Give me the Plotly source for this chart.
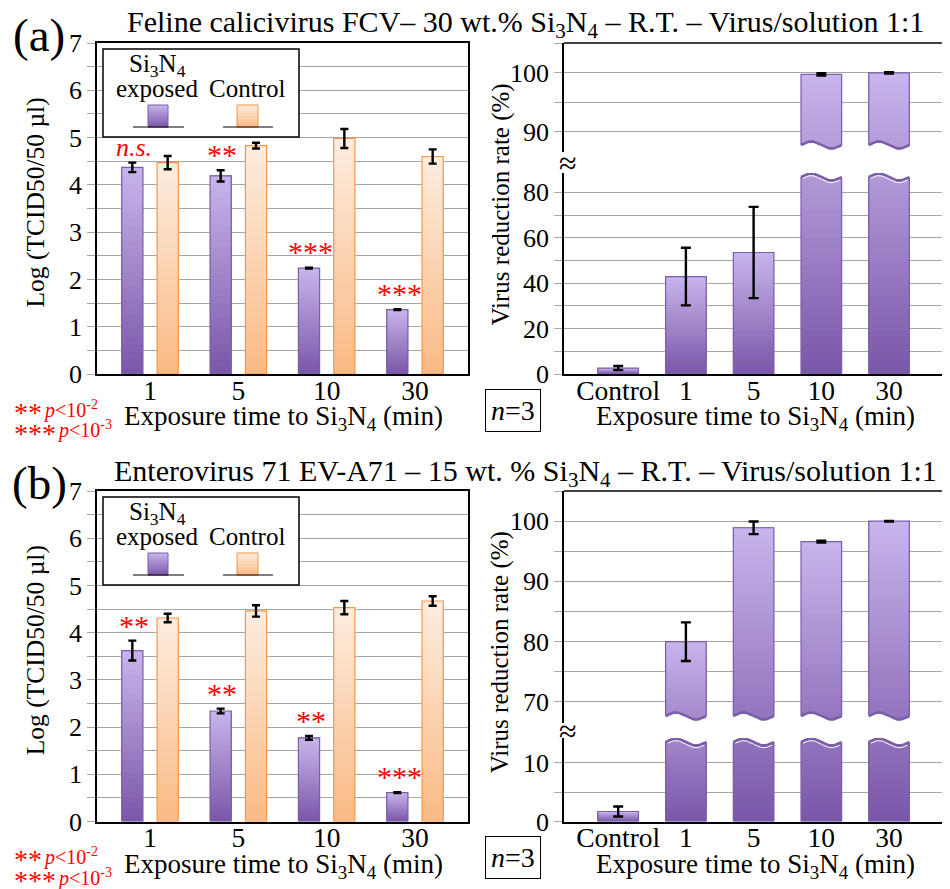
import numpy as np
import plotly.graph_objects as go

# ---------------- data ----------------
time_labels = ["1", "5", "10", "30"]
rate_labels = ["Control", "1", "5", "10", "30"]

a_exposed = [4.37, 4.19, 2.24, 1.36]
a_exposed_err = [0.10, 0.12, 0.01, 0.01]
a_control = [4.47, 4.83, 4.98, 4.60]
a_control_err = [0.14, 0.06, 0.20, 0.15]
a_sig = ["n.s.", "**", "***", "***"]
a_rate = [2.6, 42.9, 53.5, 99.7, 99.95]
a_rate_err = [0.9, 12.7, 20.1, 0.2, 0.1]

b_exposed = [3.62, 2.34, 1.77, 0.61]
b_exposed_err = [0.21, 0.05, 0.04, 0.01]
b_control = [4.31, 4.46, 4.53, 4.67]
b_control_err = [0.09, 0.12, 0.14, 0.10]
b_sig = ["**", "**", "**", "***"]
b_rate = [1.7, 80.0, 98.9, 96.6, 100.0]
b_rate_err = [0.85, 3.2, 1.05, 0.15, 0.05]

title_a = "Feline calicivirus FCV– 30 wt.% Si<sub>3</sub>N<sub>4</sub> – R.T. – Virus/solution 1:1"
title_b = "Enterovirus 71 EV-A71 – 15 wt. % Si<sub>3</sub>N<sub>4</sub> – R.T. – Virus/solution 1:1"

# ---------------- styling / geometry ----------------
PAGE_OFF = 8                      # default page margin around the plot div
W, H = 950 - PAGE_OFF, 889 - PAGE_OFF
FONT = "Liberation Serif, Times New Roman, serif"
GRID = "#a6a6a6"
P_TOP, P_BOT, P_LINE = (200, 181, 236), (122, 86, 168), "#7b5ea8"
O_TOP, O_BOT, O_LINE = (253, 237, 224), (250, 186, 132), "#f79646"


def fx(p):
    return (p - PAGE_OFF) / W


def fy(p):
    return 1 - (p - PAGE_OFF) / H


def mix(c0, c1, t):
    t = min(max(t, 0.0), 1.0)
    return "rgb(%d,%d,%d)" % tuple(round(a + (b - a) * t) for a, b in zip(c0, c1))


fig = go.Figure()
shapes = []
ann = []


def grad_bars(xa, ya, xs, bases, tops, offset, width, ctop, cbot, t0s, t1s, n=28):
    for i in range(n):
        bb, hh, cc = [], [], []
        for b0, tp, t0, t1 in zip(bases, tops, t0s, t1s):
            if tp is None:
                bb.append(None); hh.append(None); cc.append("rgba(0,0,0,0)")
                continue
            bi = b0 + (tp - b0) * i / n
            bb.append(bi); hh.append(tp - bi)
            cc.append(mix(cbot, ctop, t0 + (t1 - t0) * (i + 0.5) / n))
        fig.add_trace(go.Bar(x=xs, y=hh, base=bb, offset=offset, width=width,
                             marker=dict(color=cc, line=dict(width=0)),
                             xaxis=xa, yaxis=ya, showlegend=False, hoverinfo="skip"))


def outline_bars(xa, ya, xs, bases, tops, offset, width, lc, errs, capw=4):
    hh = [None if t is None else t - b for b, t in zip(bases, tops)]
    fig.add_trace(go.Bar(x=xs, y=hh, base=bases, offset=offset, width=width,
                         marker=dict(color="rgba(0,0,0,0)", line=dict(color=lc, width=1.2)),
                         error_y=dict(type="data", array=errs, visible=True, color="black",
                                      thickness=2.4, width=capw),
                         xaxis=xa, yaxis=ya, showlegend=False, hoverinfo="skip"))


def left_panel(xa, ya, exposed, eerr, control, cerr, sig):
    xs = list(range(len(time_labels)))
    zeros = [0] * len(xs)
    ones = [1] * len(xs)
    grad_bars(xa, ya, xs, zeros, exposed, -0.32, 0.24, P_TOP, P_BOT, zeros, ones)
    outline_bars(xa, ya, xs, zeros, exposed, -0.32, 0.24, P_LINE, eerr)
    grad_bars(xa, ya, xs, zeros, control, 0.08, 0.24, O_TOP, O_BOT, zeros, ones)
    outline_bars(xa, ya, xs, zeros, control, 0.08, 0.24, O_LINE, cerr)
    for x, v, e, s in zip(xs, exposed, eerr, sig):
        ns = s == "n.s."
        ann.append(dict(x=x - 0.18, y=v + e + 0.33, xref=xa, yref=ya,
                        text="<i>n.s.</i>" if ns else s, showarrow=False,
                        font=dict(family=FONT, size=26 if ns else 30, color="red"),
                        yanchor="middle"))


def right_panel(xa, ya_lo, ya_up, vals, errs, lo_rng, up_rng, lo_px, up_px):
    xs = list(range(len(rate_labels)))
    lo_upp = (lo_rng[1] - lo_rng[0]) / (lo_px[0] - lo_px[1])
    up_upp = (up_rng[1] - up_rng[0]) / (up_px[0] - up_px[1])
    lo_top, up_min = lo_rng[1], up_rng[0]
    lo_tops, up_tops, lo_t1, up_t0, lo_err, up_err, up_bases = [], [], [], [], [], [], []
    for v, e in zip(vals, errs):
        if v > lo_top:
            lp = lo_top / lo_upp
            upx = (v - up_min) / up_upp
            ts = lp / (lp + upx)
            lo_tops.append(lo_top); up_tops.append(v)
            lo_t1.append(ts); up_t0.append(ts)
            lo_err.append(None); up_err.append(e)
        else:
            lo_tops.append(v); up_tops.append(None)
            lo_t1.append(1.0); up_t0.append(1.0)
            lo_err.append(e); up_err.append(None)
        up_bases.append(up_min)
    zeros = [0] * len(xs)
    ones = [1] * len(xs)
    off, wid = -0.3, 0.6
    grad_bars(xa, ya_lo, xs, zeros, lo_tops, off, wid, P_TOP, P_BOT, zeros, lo_t1)
    outline_bars(xa, ya_lo, xs, zeros, lo_tops, off, wid, P_LINE, lo_err, capw=5)
    grad_bars(xa, ya_up, xs, up_bases, up_tops, off, wid, P_TOP, P_BOT, up_t0, ones)
    outline_bars(xa, ya_up, xs, up_bases, up_tops, off, wid, P_LINE, up_err, capw=5)
    # wavy cut edges of the broken bars
    u = np.linspace(0, 1, 41)
    amp = 3.5
    for x, ut in zip(xs, up_tops):
        if ut is None:
            continue
        xl = x + off
        wx = xl + u * wid
        # upper piece: bottom wave, white below
        yw = up_min + (7 + amp * np.sin(2 * np.pi * u)) * up_upp
        px_ = [xl - 0.02] + list(wx) + [xl + wid + 0.02, xl + wid + 0.02, xl - 0.02]
        py_ = [yw[0]] + list(yw) + [yw[-1], up_min - 5, up_min - 5]
        fig.add_trace(go.Scatter(x=px_, y=py_, mode="lines", fill="toself", fillcolor="white",
                                 line=dict(width=0, color="white"), xaxis=xa, yaxis=ya_up,
                                 showlegend=False, hoverinfo="skip"))
        fig.add_trace(go.Scatter(x=wx, y=yw, mode="lines", line=dict(color=P_LINE, width=2.6),
                                 xaxis=xa, yaxis=ya_up, showlegend=False, hoverinfo="skip"))
        # lower piece: top wave, white above
        yl = lo_top + (-4 + amp * np.sin(2 * np.pi * u)) * lo_upp
        py2 = [yl[0]] + list(yl) + [yl[-1], lo_top + 50, lo_top + 50]
        fig.add_trace(go.Scatter(x=px_, y=py2, mode="lines", fill="toself", fillcolor="white",
                                 line=dict(width=0, color="white"), xaxis=xa, yaxis=ya_lo,
                                 showlegend=False, hoverinfo="skip"))
        fig.add_trace(go.Scatter(x=wx, y=yl, mode="lines", line=dict(color=P_LINE, width=2.6),
                                 xaxis=xa, yaxis=ya_lo, showlegend=False, hoverinfo="skip"))
        fig.add_trace(go.Scatter(x=wx[2:-2], y=yl[2:-2] - 2.2 * lo_upp, mode="lines",
                                 line=dict(color="white", width=1),
                                 xaxis=xa, yaxis=ya_lo, showlegend=False, hoverinfo="skip"))


# geometry of the four panels (page pixels)
A_TOP, A_BOT = 43, 374
B_TOP, B_BOT = 491, 821.5
L_X0, L_X1 = 97, 468
R_X0, R_X1 = 564, 950

a_lo_rng, a_up_rng = [0, 88.5], [86.6, 105]
a_lo_px, a_up_px = (A_BOT, 173), (152, A_TOP)
b_lo_rng, b_up_rng = [0, 14.2], [66.5, 105]
b_lo_px, b_up_px = (B_BOT, 738), (723, B_TOP)

left_panel("x", "y", a_exposed, a_exposed_err, a_control, a_control_err, a_sig)
right_panel("x2", "y2", "y3", a_rate, a_rate_err, a_lo_rng, a_up_rng, a_lo_px, a_up_px)
left_panel("x3", "y4", b_exposed, b_exposed_err, b_control, b_control_err, b_sig)
right_panel("x4", "y5", "y6", b_rate, b_rate_err, b_lo_rng, b_up_rng, b_lo_px, b_up_px)


def tf(size=26):
    return dict(family=FONT, size=size, color="black")


def xax(x0, x1, anchor, rng, labels, mirror):
    return dict(domain=[fx(x0), min(fx(x1), 1.0)], anchor=anchor, range=rng, automargin=False,
                tickmode="array", tickvals=list(range(len(labels))), ticktext=labels,
                showgrid=False, zeroline=False, showline=True, linecolor="black", linewidth=1.5,
                mirror=mirror, ticks="", tickfont=tf(27.5), fixedrange=True, ticklabelstandoff=-9)


def yax(pb, pt, anchor, rng, dtick, mdtick, mirror=False):
    return dict(domain=[fy(pb), fy(pt)], anchor=anchor, range=rng, dtick=dtick, tick0=0,
                automargin=False,
                showgrid=True, gridcolor=GRID, gridwidth=1.2, zeroline=False,
                showline=True, linecolor="black", linewidth=1.5, mirror=mirror,
                ticks="outside", ticklen=8, tickcolor=GRID, tickwidth=1.2,
                minor=dict(dtick=mdtick, tick0=0, showgrid=True, gridcolor=GRID, gridwidth=1.2,
                           ticks="outside", ticklen=8, tickcolor=GRID, tickwidth=1.2),
                tickfont=tf(26), fixedrange=True)


def text(x, y, t, size, color="black", xanchor="center", angle=0):
    ann.append(dict(x=fx(x), y=fy(y), xref="paper", yref="paper", text=t, showarrow=False,
                    xanchor=xanchor, yanchor="middle", textangle=angle,
                    font=dict(family=FONT, size=size, color=color)))


for top, bot, lab, title, ty in [(A_TOP, A_BOT, "(a)", title_a, 24), (B_TOP, B_BOT, "(b)", title_b, 473)]:
    # top border of the right panel
    shapes.append(dict(type="line", xref="paper", yref="paper", x0=fx(R_X0), x1=1,
                       y0=fy(top), y1=fy(top), line=dict(color="black", width=1.5)))
    text(39, top - 8, lab, 47)
    text(525, ty, title, 30)
    text(35, (top + bot) / 2 - 6, "Log (TCID50/50 µl)", 25.5, angle=-90)
    text(500, (top + bot) / 2 - 4, "Virus reduction rate (%)", 25, angle=-90)
    text(283, bot + 44, "Exposure time to Si<sub>3</sub>N<sub>4</sub> (min)", 27)
    text(755, bot + 44, "Exposure time to Si<sub>3</sub>N<sub>4</sub> (min)", 27)
    # significance key
    text(12, bot + 38, "**", 28, color="red", xanchor="left")
    text(41, bot + 35, "<i>p</i>&lt;10<sup>-2</sup>", 20, color="red", xanchor="left")
    text(12, bot + 59, "***", 28, color="red", xanchor="left")
    text(55, bot + 56, "<i>p</i>&lt;10<sup>-3</sup>", 20, color="red", xanchor="left")
    ann.append(dict(x=fx(513), y=fy(bot + 36), xref="paper", yref="paper", text="<i>n</i>=3",
                    showarrow=False, xanchor="center", yanchor="middle",
                    font=dict(family=FONT, size=28, color="black"),
                    bordercolor="black", borderwidth=1, borderpad=5, bgcolor="white"))
    # legend box
    shapes.append(dict(type="rect", xref="paper", yref="paper", x0=fx(103), x1=fx(299),
                       y0=fy(top + 6), y1=fy(top + 94), fillcolor="white",
                       line=dict(color="black", width=1.5), layer="above"))
    text(157, top + 22, "Si<sub>3</sub>N<sub>4</sub>", 25)
    text(157, top + 45, "exposed", 25)
    text(247, top + 45, "Control", 25)
    for (x0, x1, lx0, lx1, ctop, cbot, lc) in [(148, 168, 133, 184, P_TOP, P_BOT, P_LINE),
                                               (237, 258, 223, 273, O_TOP, O_BOT, O_LINE)]:
        n = 10
        y0, y1 = top + 62, top + 84
        for i in range(n):
            ya = y0 + (y1 - y0) * i / n
            yb = y0 + (y1 - y0) * (i + 1) / n
            shapes.append(dict(type="rect", xref="paper", yref="paper", x0=fx(x0), x1=fx(x1),
                               y0=fy(ya), y1=fy(yb + 0.5), fillcolor=mix(cbot, ctop, 1 - (i + 0.5) / n),
                               line=dict(width=0), layer="above"))
        shapes.append(dict(type="rect", xref="paper", yref="paper", x0=fx(x0), x1=fx(x1),
                           y0=fy(y0), y1=fy(y1), line=dict(color=lc, width=1), layer="above"))
        shapes.append(dict(type="line", xref="paper", yref="paper", x0=fx(lx0), x1=fx(lx1),
                           y0=fy(y1), y1=fy(y1), line=dict(color="black", width=1.2), layer="above"))

# axis-break symbols
text(568, (a_lo_px[1] + a_up_px[0]) / 2, "≈", 32)
text(568, (b_lo_px[1] + b_up_px[0]) / 2, "≈", 32)

fig.update_layout(
    width=W, height=H, autosize=False,
    margin=dict(l=0, r=0, t=0, b=0, autoexpand=False),
    paper_bgcolor="white", plot_bgcolor="rgba(0,0,0,0)",
    barmode="overlay", showlegend=False,
    font=dict(family=FONT, color="black"),
    xaxis=xax(L_X0, L_X1, "y", [-0.6, 3.6], time_labels, True),
    yaxis=yax(A_BOT, A_TOP, "x", [0, 7], 1, 0.5, True),
    xaxis2=xax(R_X0, R_X1, "y2", [-0.8, 4.9], rate_labels, False),
    yaxis2=yax(a_lo_px[0], a_lo_px[1], "x2", a_lo_rng, 20, 10),
    yaxis3=yax(a_up_px[0], a_up_px[1], "x2", a_up_rng, 10, 5),
    xaxis3=xax(L_X0, L_X1, "y4", [-0.6, 3.6], time_labels, True),
    yaxis4=yax(B_BOT, B_TOP, "x3", [0, 7], 1, 0.5, True),
    xaxis4=xax(R_X0, R_X1, "y5", [-0.8, 4.9], rate_labels, False),
    yaxis5=yax(b_lo_px[0], b_lo_px[1], "x4", b_lo_rng, 10, 5),
    yaxis6=yax(b_up_px[0], b_up_px[1], "x4", b_up_rng, 10, 5),
    shapes=shapes,
    annotations=ann,
)
fig.write_html("out.html")
